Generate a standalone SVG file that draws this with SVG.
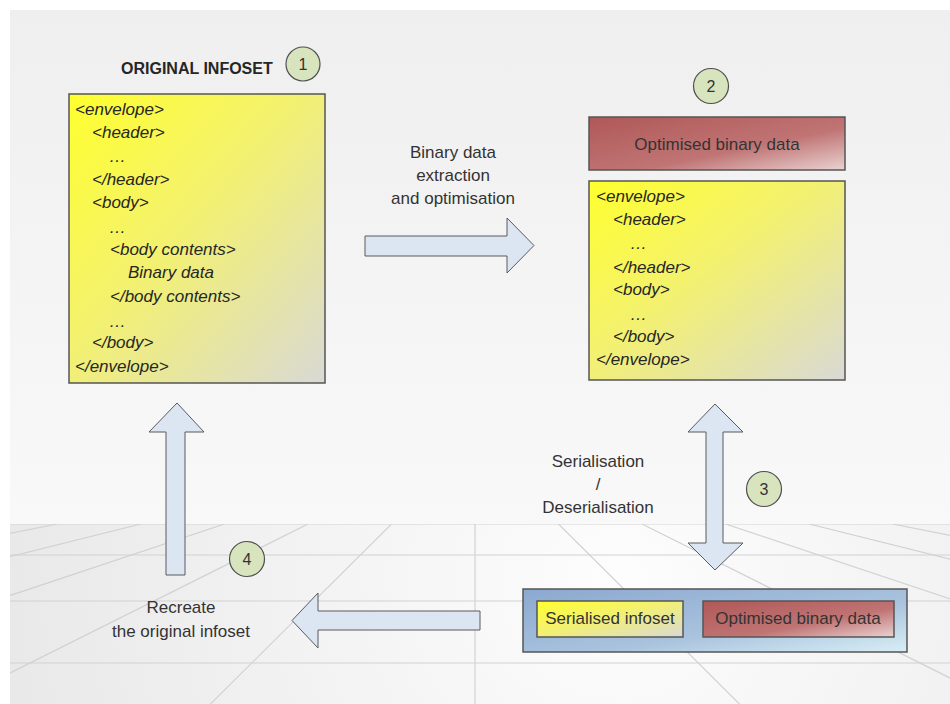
<svg xmlns="http://www.w3.org/2000/svg" width="950" height="704" viewBox="0 0 950 704">
<defs>
<linearGradient id="bg" x1="0" y1="0" x2="0" y2="1">
<stop offset="0" stop-color="#efefef"/>
<stop offset="1" stop-color="#fcfcfc"/>
</linearGradient>
<radialGradient id="floor" cx="620" cy="580" r="640" gradientUnits="userSpaceOnUse">
<stop offset="0" stop-color="#fdfdfd"/>
<stop offset="1" stop-color="#e8e8e8"/>
</radialGradient>
<linearGradient id="yel" x1="0" y1="0" x2="1" y2="1">
<stop offset="0" stop-color="#ffff2e"/>
<stop offset="0.45" stop-color="#f3f170"/>
<stop offset="1" stop-color="#d9d9d6"/>
</linearGradient>
<linearGradient id="red" x1="0" y1="0" x2="1" y2="1">
<stop offset="0" stop-color="#b05858"/>
<stop offset="0.6" stop-color="#c07474"/>
<stop offset="1" stop-color="#ead2d2"/>
</linearGradient>
<linearGradient id="blue" x1="0" y1="0" x2="1" y2="1">
<stop offset="0" stop-color="#8ba8cf"/>
<stop offset="0.6" stop-color="#a9c3de"/>
<stop offset="1" stop-color="#d8eef5"/>
</linearGradient>
<clipPath id="floorClip"><rect x="10" y="524" width="940" height="180"/></clipPath>
</defs>
<style>
.box{stroke:#555;stroke-width:1.5}
.arr{fill:#dce6f2;stroke:#5a5a5a;stroke-width:1}
.num{fill:#d7e4bd;stroke:#4f4f4f;stroke-width:1.2}
.code{font-family:"Liberation Sans",Arial,sans-serif;font-style:italic;font-size:17px;fill:#262626}
.lbl{font-family:"Liberation Sans",Arial,sans-serif;font-size:17px;fill:#333;text-anchor:middle}
.ntxt{font-family:"Liberation Sans",Arial,sans-serif;font-size:16px;fill:#333;text-anchor:middle}
.grid{stroke:#d2d2d2;stroke-width:1.2;fill:none}
</style>
<rect x="0" y="0" width="950" height="704" fill="#ffffff"/>
<rect x="10" y="10" width="940" height="694" fill="url(#bg)"/>
<rect x="10" y="524" width="940" height="180" fill="url(#floor)"/>
<g id="floor-grid" clip-path="url(#floorClip)" class="grid">
<line x1="10" y1="524" x2="950" y2="524"/>
<line x1="10" y1="555" x2="950" y2="555"/>
<line x1="10" y1="601" x2="950" y2="601"/>
<line x1="10" y1="663" x2="950" y2="663"/>
<line x1="475" y1="524" x2="475" y2="704"/>
<path d="M391.5 524 L210 704.5 M308 524 L-53 704.5 M224.5 524 L-317 704.5 M141 524 L-582 704.5 M57.5 524 L-847 704.5 M558.5 524 L740 704.5 M642 524 L1003 704.5 M725.5 524 L1267 704.5 M809 524 L1532 704.5 M892.5 524 L1797 704.5"/>
</g>
<g id="connectors">
<path id="arrow-extract" class="arr" d="M365 236 L507 236 L507 218 L534 245.5 L507 273 L507 256 L365 256 Z"/>
<path id="arrow-serial" class="arr" d="M715 404 L743 432 L723 432 L723 543 L743 543 L715 570 L688 543 L706 543 L706 432 L688 432 Z"/>
<path id="arrow-back" class="arr" d="M480 611 L318 611 L318 593 L292 620.5 L318 648 L318 630 L480 630 Z"/>
<path id="arrow-up" class="arr" d="M177 403 L204 432 L185 432 L185 575 L166 575 L166 432 L149 432 Z"/>
</g>
<g id="node-original">
<text x="121" y="74" font-family="'Liberation Sans',Arial,sans-serif" font-weight="bold" font-size="16" fill="#262626">ORIGINAL INFOSET</text>
<rect class="box" x="69" y="94" width="256" height="289" fill="url(#yel)"/>
<text class="code" x="75" y="115">&lt;envelope&gt;</text>
<text class="code" x="92" y="138">&lt;header&gt;</text>
<text class="code" x="109" y="162">…</text>
<text class="code" x="92" y="185">&lt;/header&gt;</text>
<text class="code" x="92" y="208">&lt;body&gt;</text>
<text class="code" x="109" y="233">…</text>
<text class="code" x="110" y="255">&lt;body contents&gt;</text>
<text class="code" x="128" y="278">Binary data</text>
<text class="code" x="110" y="302">&lt;/body contents&gt;</text>
<text class="code" x="109" y="327">…</text>
<text class="code" x="92" y="348">&lt;/body&gt;</text>
<text class="code" x="75" y="372">&lt;/envelope&gt;</text>
</g>
<g id="step1"><circle class="num" cx="303" cy="64" r="17"/><text class="ntxt" x="303" y="70">1</text></g>
<g id="step2"><circle class="num" cx="711" cy="86" r="17.5"/><text class="ntxt" x="711" y="92">2</text></g>
<g id="step3"><circle class="num" cx="764" cy="489" r="17.5"/><text class="ntxt" x="764" y="495">3</text></g>
<g id="step4"><circle class="num" cx="247" cy="559" r="17.5"/><text class="ntxt" x="247" y="565">4</text></g>
<g id="node-optimised">
<rect class="box" x="589" y="117" width="256" height="53" fill="url(#red)"/>
<text class="lbl" x="717" y="150" fill="#222">Optimised binary data</text>
</g>
<g id="node-optimised-infoset">
<rect class="box" x="589" y="181" width="256" height="199" fill="url(#yel)"/>
<text class="code" x="596" y="202">&lt;envelope&gt;</text>
<text class="code" x="613" y="225">&lt;header&gt;</text>
<text class="code" x="630" y="249">…</text>
<text class="code" x="613" y="273">&lt;/header&gt;</text>
<text class="code" x="613" y="295">&lt;body&gt;</text>
<text class="code" x="630" y="320">…</text>
<text class="code" x="613" y="342">&lt;/body&gt;</text>
<text class="code" x="596" y="365">&lt;/envelope&gt;</text>
</g>
<g id="label-extract">
<text class="lbl" x="453" y="158">Binary data</text>
<text class="lbl" x="453" y="181">extraction</text>
<text class="lbl" x="453" y="204">and optimisation</text>
</g>
<g id="label-serial">
<text class="lbl" x="598" y="467">Serialisation</text>
<text class="lbl" x="598" y="490">/</text>
<text class="lbl" x="598" y="513">Deserialisation</text>
</g>
<g id="label-recreate">
<text class="lbl" x="181" y="613">Recreate</text>
<text class="lbl" x="181" y="637">the original infoset</text>
</g>
<g id="node-serialised">
<rect class="box" x="523" y="589" width="384" height="63" fill="url(#blue)"/>
<rect class="box" x="537" y="601" width="146" height="36" fill="url(#yel)"/>
<text class="lbl" x="610" y="624" fill="#222">Serialised infoset</text>
<rect class="box" x="703" y="601" width="191" height="36" fill="url(#red)"/>
<text class="lbl" x="798" y="624" fill="#222">Optimised binary data</text>
</g>
</svg>
